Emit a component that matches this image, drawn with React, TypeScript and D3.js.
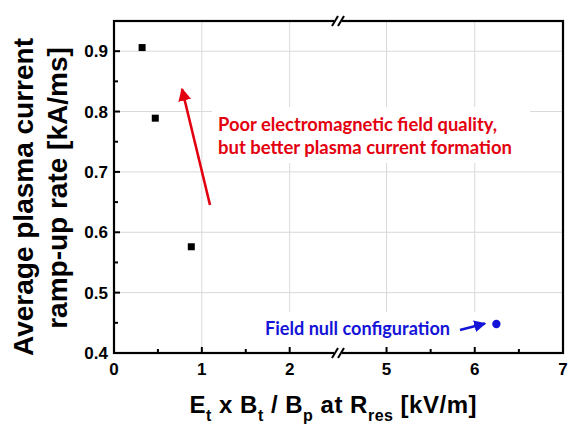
import React from "react";
import * as d3 from "d3";

const squareX = [0.32, 0.47, 0.88];
const squareY = [0.906, 0.789, 0.576];
const circleX = [6.245];
const circleY = [0.448];
const yTicks = [0.4, 0.5, 0.6, 0.7, 0.8, 0.9];
const yMinor = [0.45, 0.55, 0.65, 0.75, 0.85];
const xTicksLeft = [0, 1, 2];
const xTicksRight = [5, 6, 7];
const xMinorLeft = [0.5, 1.5];
const xMinorRight = [5.5, 6.5];
const gridXLeft = [1, 2];
const gridXRight = [5, 6];
const gridY = [0.5, 0.6, 0.7, 0.8, 0.9];

const W = 587, H = 441;
const L = 114, R = 563, T = 21, B = 353;
const BRK = 338;

const xl = d3.scaleLinear().domain([0, 2.55]).range([L, BRK]);
const xr = d3.scaleLinear().domain([4.45, 7]).range([BRK, R]);
const y = d3.scaleLinear().domain([0.4, 0.95]).range([B, T]);

const arial = "'Liberation Sans', Arial, sans-serif";
const sans = "Lato, 'Open Sans', sans-serif";
const RED = "#e3000f";
const BLUE = "#1414d8";

export default function App() {
  const grid = "#d9d9d9";
  const breakMark = (cx: number, cy: number) => (
    <g>
      {[-3, 3].map((d) => (
        <line key={d} x1={cx + d - 3} y1={cy + 5} x2={cx + d + 3} y2={cy - 5} stroke="#000" strokeWidth={2} />
      ))}
    </g>
  );
  return (
    <svg width={W} height={H} style={{ position: "absolute", left: 0, top: 0, background: "#fff" }}>
      <defs>
        <marker id="ahr" viewBox="0 0 10 10" refX="9" refY="5" markerWidth="5" markerHeight="5" orient="auto">
          <path d="M0,0 L10,5 L0,10 z" fill={RED} />
        </marker>
        <marker id="ahb" viewBox="0 0 10 10" refX="9" refY="5" markerWidth="5" markerHeight="5" orient="auto">
          <path d="M0,0 L10,5 L0,10 z" fill={BLUE} />
        </marker>
      </defs>
      {/* grid */}
      {gridY.map((v) => (
        <line key={"gy" + v} x1={L} x2={R} y1={y(v)} y2={y(v)} stroke={grid} strokeWidth={1} />
      ))}
      {gridXLeft.map((v) => (
        <line key={"gxl" + v} x1={xl(v)} x2={xl(v)} y1={T} y2={B} stroke={grid} strokeWidth={1} />
      ))}
      {gridXRight.map((v) => (
        <line key={"gxr" + v} x1={xr(v)} x2={xr(v)} y1={T} y2={B} stroke={grid} strokeWidth={1} />
      ))}
      {/* annotation backgrounds */}
      <rect x={212} y={107} width={318} height={56} fill="#fff" />
      <rect x={262} y={312} width={228} height={36} fill="#fff" />
      {/* frame */}
      <rect x={L} y={T} width={R - L} height={B - T} fill="none" stroke="#000" strokeWidth={2.2} />
      {/* y ticks */}
      {yTicks.map((v) => (
        <g key={"yt" + v}>
          <line x1={L} x2={L + 6} y1={y(v)} y2={y(v)} stroke="#000" strokeWidth={2} />
          <text x={108} y={y(v) + 6} textAnchor="end" fontFamily={arial} fontWeight="bold" fontSize={17}>
            {v.toFixed(1)}
          </text>
        </g>
      ))}
      {yMinor.map((v) => (
        <line key={"ym" + v} x1={L} x2={L + 4} y1={y(v)} y2={y(v)} stroke="#000" strokeWidth={2} />
      ))}
      {/* x ticks */}
      {xTicksLeft.map((v) => (
        <g key={"xl" + v}>
          <line x1={xl(v)} x2={xl(v)} y1={B} y2={B - 6} stroke="#000" strokeWidth={2} />
          <text x={xl(v)} y={375} textAnchor="middle" fontFamily={arial} fontWeight="bold" fontSize={17}>{v}</text>
        </g>
      ))}
      {xTicksRight.map((v) => (
        <g key={"xr" + v}>
          <line x1={xr(v)} x2={xr(v)} y1={B} y2={B - 6} stroke="#000" strokeWidth={2} />
          <text x={xr(v)} y={375} textAnchor="middle" fontFamily={arial} fontWeight="bold" fontSize={17}>{v}</text>
        </g>
      ))}
      {xMinorLeft.map((v) => (
        <line key={"xml" + v} x1={xl(v)} x2={xl(v)} y1={B} y2={B - 4} stroke="#000" strokeWidth={2} />
      ))}
      {xMinorRight.map((v) => (
        <line key={"xmr" + v} x1={xr(v)} x2={xr(v)} y1={B} y2={B - 4} stroke="#000" strokeWidth={2} />
      ))}
      {/* break marks */}
      <rect x={BRK - 4} y={T - 2} width={8} height={4} fill="#fff" />
      <rect x={BRK - 4} y={B - 2} width={8} height={4} fill="#fff" />
      {breakMark(BRK, T)}
      {breakMark(BRK, B)}
      {/* data */}
      {squareX.map((v, i) => (
        <rect key={"sq" + i} x={xl(v) - 3.5} y={y(squareY[i]) - 3.5} width={7} height={7} fill="#000" />
      ))}
      {circleX.map((v, i) => (
        <circle key={"c" + i} cx={xr(v)} cy={y(circleY[i])} r={4.2} fill={BLUE} />
      ))}
      {/* red annotation */}
      <line x1={210} y1={205} x2={182} y2={89} stroke={RED} strokeWidth={2.6} markerEnd="url(#ahr)" />
      <text x={218} y={131} fontFamily={sans} fontWeight="bold" fontSize={18} fill={RED} textLength={279} lengthAdjust="spacingAndGlyphs">
        Poor electromagnetic field quality,
      </text>
      <text x={218} y={154} fontFamily={sans} fontWeight="bold" fontSize={18} fill={RED} textLength={294} lengthAdjust="spacingAndGlyphs">
        but better plasma current formation
      </text>
      {/* blue annotation */}
      <text x={265} y={335} fontFamily={sans} fontWeight="bold" fontSize={18} fill={BLUE} textLength={185} lengthAdjust="spacingAndGlyphs">
        Field null configuration
      </text>
      <line x1={460} y1={330} x2={485} y2={323.5} stroke={BLUE} strokeWidth={2.4} markerEnd="url(#ahb)" />
      {/* x title */}
      <text x={333} y={413} textAnchor="middle" fontFamily={arial} fontWeight="bold" fontSize={24} textLength={287} lengthAdjust="spacing">
        E<tspan fontSize={16} dy={8}>t</tspan>
        <tspan dy={-8}> x B</tspan>
        <tspan fontSize={16} dy={8}>t</tspan>
        <tspan dy={-8}> / B</tspan>
        <tspan fontSize={16} dy={8}>p</tspan>
        <tspan dy={-8}> at R</tspan>
        <tspan fontSize={16} dy={8}>res</tspan>
        <tspan dy={-8}> [kV/m]</tspan>
      </text>
      {/* y title */}
      <text transform="translate(33, 197) rotate(-90)" textAnchor="middle" fontFamily={arial} fontWeight="bold" fontSize={28}>
        Average plasma current
      </text>
      <text transform="translate(67, 188) rotate(-90)" textAnchor="middle" fontFamily={arial} fontWeight="bold" fontSize={28}>
        ramp-up rate [kA/ms]
      </text>
    </svg>
  );
}
